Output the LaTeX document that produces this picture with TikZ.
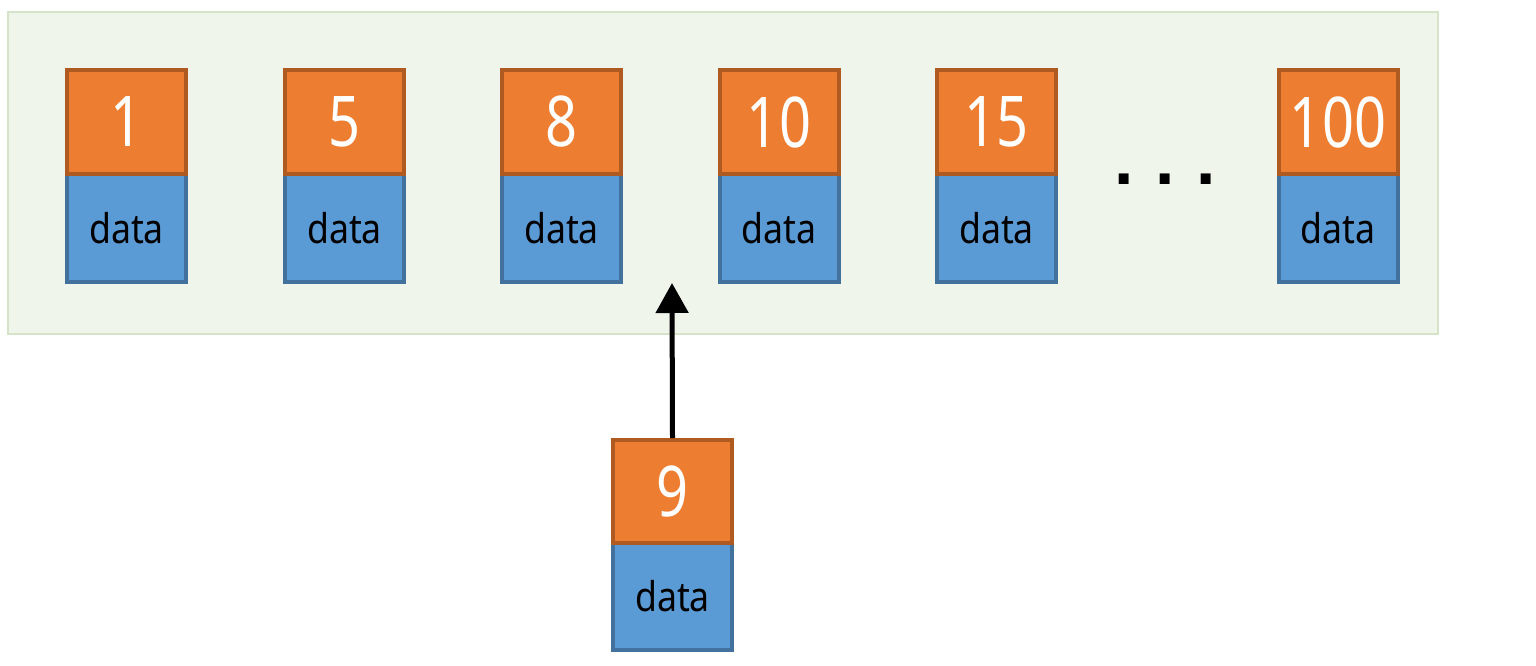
\documentclass[tikz,border=0pt]{standalone}
\usepackage{fontspec}
\setmainfont{Noto Sans}
\newfontfamily\dotfont{DejaVu Sans}
\usetikzlibrary{arrows.meta}
\definecolor{keyfill}{HTML}{ED7D31}
\definecolor{keyline}{HTML}{AE5A21}
\definecolor{datafill}{HTML}{5B9BD5}
\definecolor{dataline}{HTML}{41719C}
\definecolor{bgfill}{HTML}{F0F5EC}
\definecolor{bgline}{HTML}{D5E3C8}
\tikzset{
  keybox/.style={rectangle, draw=keyline, fill=keyfill, line width=4pt,
    minimum width=119pt, minimum height=104pt, inner sep=0pt,
    text=white, font=\fontsize{70}{70}\selectfont},
  databox/.style={rectangle, draw=dataline, fill=datafill, line width=4pt,
    minimum width=119pt, minimum height=108pt, inner sep=0pt,
    text=black, font=\fontsize{41}{41}\selectfont},
}
\newcommand{\keynum}[1]{\scalebox{0.8}[1]{#1}}
\newcommand{\datatxt}{\scalebox{0.87}[1]{data}}
\begin{document}
\begin{tikzpicture}[x=1pt,y=-1pt]
\useasboundingbox (0,0) rectangle (1536,666);
\draw[bgline, fill=bgfill, line width=2pt] (8,12) rectangle (1438,334);
% top row
\foreach \n/\x/\v in {a/126.5/1, b/344.5/5, c/561.5/8, d/779/10, e/996.5/15, f/1338/100} {
  \node[databox] (d\n) at (\x,228) {\datatxt};
  \node[keybox] (k\n) at (\x,122) {\keynum{\v}};
}
% dots
\node[font=\dotfont\bfseries\fontsize{56}{56}\selectfont, inner sep=0pt] (dots) at (1165,179)
  {.\hspace{20pt}.\hspace{20pt}.};
% new record
\node[databox, minimum height=107pt] (d9) at (672.5,596.5) {\datatxt};
\node[keybox, minimum height=103pt] (k9) at (672.5,491.5) {\keynum{9}};
\coordinate (tip) at (672,283);
\draw[line width=5pt, -{Triangle[length=30pt,width=32pt]}] (k9.north) -- (tip);
\end{tikzpicture}
\end{document}
